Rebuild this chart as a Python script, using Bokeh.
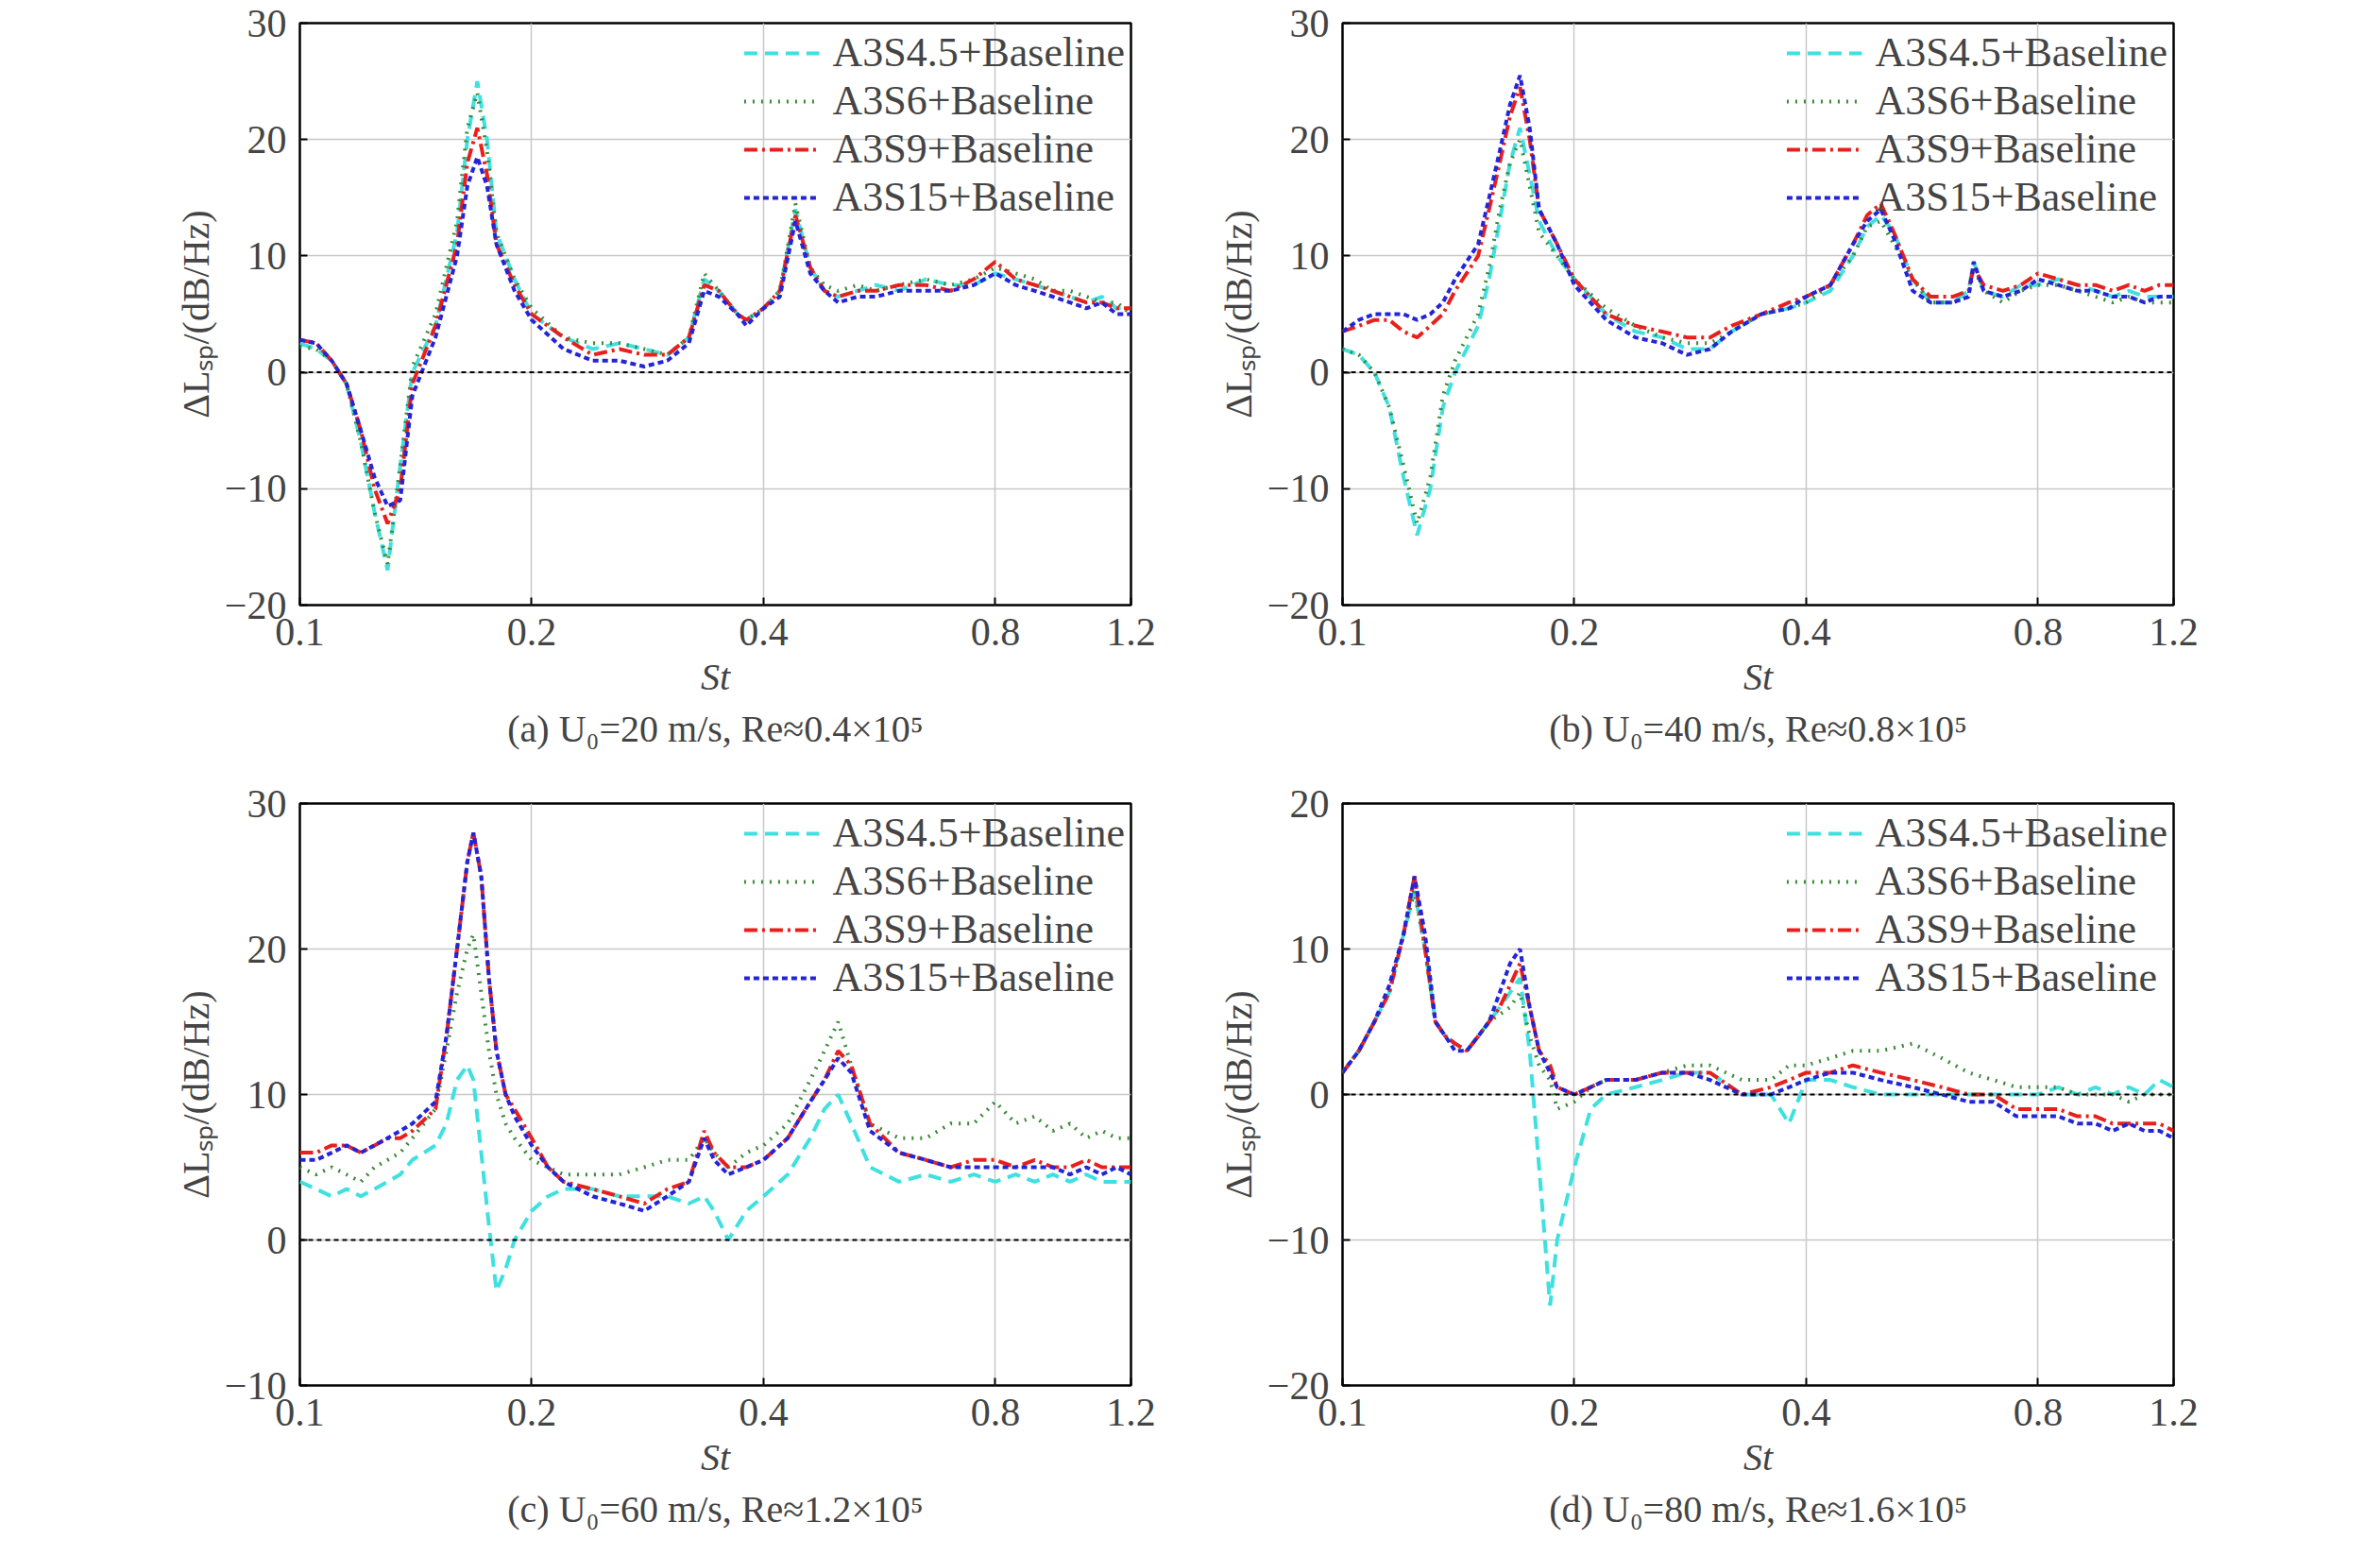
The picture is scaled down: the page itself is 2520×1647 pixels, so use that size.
from bokeh.plotting import figure
from bokeh.layouts import column, row
from bokeh.models import Title, Span, Range1d
from bokeh.embed import file_html
from bokeh.resources import INLINE

FONT = "Liberation Serif"
names = ["A3S4.5+Baseline", "A3S6+Baseline", "A3S9+Baseline", "A3S15+Baseline"]
colors = ["#3fe0e0", "#3a8a3a", "#e8201c", "#2424d8"]
dashes = ["14 8", "2 7", "14 5 3 5", "6 4"]
xticks = [0.1, 0.2, 0.4, 0.8, 1.2]

st_a = [0.1, 0.105, 0.11, 0.115, 0.12, 0.125, 0.13, 0.135, 0.14, 0.15,
        0.16, 0.165, 0.17, 0.175, 0.18, 0.19, 0.2, 0.22, 0.24, 0.26,
        0.28, 0.3, 0.32, 0.335, 0.35, 0.37, 0.38, 0.4, 0.42, 0.44,
        0.46, 0.48, 0.5, 0.53, 0.56, 0.6, 0.65, 0.7, 0.75, 0.8,
        0.85, 0.9, 0.95, 1.0, 1.05, 1.1, 1.15, 1.2]
a_s45 = [2.5, 2, 1, -1, -6, -12, -17, -8, 0, 4, 12, 20, 25, 20, 12, 8, 5, 3, 2, 2.5,
         2, 1.5, 3, 8, 7, 5, 4.5, 5.5, 7, 14, 9, 7, 6.5, 7, 7.5, 7, 8, 7.5, 7.5, 8.5,
         8, 7.5, 7, 6.5, 6, 6.5, 5.5, 5.5]
a_s6 = [2.2, 2, 1, -1, -6, -12, -16.5, -8, 0.5, 5, 13, 21, 24, 19, 12, 8, 5.5, 3, 2.5, 2.5,
        2, 1.5, 3, 8.5, 7, 5, 4.5, 5.5, 7, 14.5, 9, 7.5, 7, 7.5, 7, 7.5, 8, 7.5, 8, 9,
        8.5, 8, 7, 7, 6.5, 6, 6, 5]
a_s9 = [2.8, 2.5, 1, -1, -5, -10, -13, -10, -1, 4, 11, 18, 21, 17, 11, 7.5, 5, 3, 1.5, 2,
        1.5, 1.5, 3, 7.5, 7, 5, 4.5, 5.5, 7, 13.5, 9, 7, 6.5, 7, 7, 7.5, 7.5, 7, 8, 9.5,
        8, 7.5, 7, 6.5, 6, 6, 5.5, 5.5]
a_s15 = [2.8, 2.5, 1, -1, -5, -9, -11.5, -11, -2, 3, 10, 16, 18.5, 16, 11, 7, 4.5, 2, 1, 1,
         0.5, 1, 2.5, 7, 6.5, 5, 4, 5.5, 6.5, 13, 8.5, 7, 6, 6.5, 6.5, 7, 7, 7, 7.5, 8.5,
         7.5, 7, 6.5, 6, 5.5, 6, 5, 5]

st_b = [0.1, 0.105, 0.11, 0.115, 0.12, 0.125, 0.13, 0.135, 0.14, 0.15,
        0.155, 0.16, 0.165, 0.17, 0.175, 0.18, 0.19, 0.2, 0.22, 0.24,
        0.26, 0.28, 0.3, 0.32, 0.35, 0.38, 0.4, 0.43, 0.46, 0.48,
        0.5, 0.52, 0.55, 0.58, 0.62, 0.65, 0.66, 0.68, 0.72, 0.76,
        0.8, 0.85, 0.9, 0.95, 1.0, 1.05, 1.1, 1.15, 1.2]
b_s45 = [2, 1.5, 0, -3, -9, -14, -10, -3, 0, 4, 8, 13, 18, 21, 17, 13, 10, 8, 5, 3.5,
         3, 2, 2, 3.5, 5, 5.5, 6, 7, 10, 12.5, 13.5, 12, 8, 6, 6, 7, 9.5, 7, 6.5, 7.5,
         7.5, 8, 7.5, 7, 6.5, 7, 6.5, 6.5, 6.5]
b_s6 = [2, 1.5, 0, -3, -8, -13, -9, -2, 1, 5, 9, 14, 18, 20, 16, 12, 10, 8, 5.5, 4,
        3, 2.5, 2.5, 3.5, 5, 5.5, 6, 7.5, 10, 12.5, 13, 11, 8, 6, 6, 6.5, 9, 7, 6, 7,
        7.5, 7.5, 7, 6.5, 6, 6.5, 6, 6, 6]
b_s9 = [3.5, 4, 4.5, 4.5, 3.5, 3, 4, 5, 7, 10, 14, 18, 22, 24.5, 20, 14, 11, 8, 5, 4,
        3.5, 3, 3, 4, 5, 6, 6.5, 7.5, 11, 13.5, 14.5, 12, 8, 6.5, 6.5, 7, 9, 7.5, 7, 7.5,
        8.5, 8, 7.5, 7.5, 7, 7.5, 7, 7.5, 7.5]
b_s15 = [3.5, 4.5, 5, 5, 5, 4.5, 5, 6, 8, 11, 15, 19, 23, 25.5, 21, 14, 11, 7.5, 4.5, 3,
         2.5, 1.5, 2, 3.5, 5, 5.5, 6.5, 7.5, 11, 13, 14, 11.5, 7, 6, 6, 6.5, 9.5, 7, 6.5, 7,
         8, 7.5, 7, 7, 6.5, 6.5, 6, 6.5, 6.5]

st_c = [0.1, 0.105, 0.11, 0.115, 0.12, 0.125, 0.13, 0.135, 0.14, 0.15,
        0.155, 0.16, 0.165, 0.168, 0.172, 0.176, 0.18, 0.185, 0.19, 0.2,
        0.21, 0.22, 0.24, 0.26, 0.28, 0.3, 0.32, 0.335, 0.345, 0.36,
        0.38, 0.4, 0.43, 0.46, 0.48, 0.5, 0.52, 0.55, 0.6, 0.65,
        0.7, 0.75, 0.8, 0.85, 0.9, 0.95, 1.0, 1.05, 1.1, 1.15, 1.2]
c_s45 = [4, 3.5, 3, 3.5, 3, 3.5, 4, 4.5, 5.5, 6.5, 8, 11, 12, 11, 6, 1, -3.5, -2, 0, 2,
         3, 3.5, 3.5, 3, 3, 3, 2.5, 3, 2, 0, 2, 3, 4.5, 7, 9, 10, 8, 5, 4, 4.5,
         4, 4.5, 4, 4.5, 4, 4.5, 4, 4.5, 4, 4, 4]
c_s6 = [5, 4.5, 5, 4.5, 4, 5, 5.5, 6, 7, 9, 13, 17, 20, 21, 17, 13, 10, 8, 7, 5.5,
        5, 4.5, 4.5, 4.5, 5, 5.5, 5.5, 7, 6, 5, 6, 6.5, 8, 11, 13, 15, 12, 8, 7, 7,
        8, 8, 9.5, 8, 8.5, 7.5, 8, 7, 7.5, 7, 7]
c_s9 = [6, 6, 6.5, 6.5, 6, 6.5, 7, 7, 7.5, 9, 14, 20, 26, 28, 25, 18, 13, 10, 9, 7,
        5, 4, 3.5, 3, 2.5, 3.5, 4, 7.5, 6, 5, 5, 5.5, 7, 9.5, 11, 13, 12, 8, 6, 5.5,
        5, 5.5, 5.5, 5, 5.5, 5, 5, 5.5, 5, 5, 5]
c_s15 = [5.5, 5.5, 6, 6.5, 6, 6.5, 7, 7.5, 8, 9.5, 14, 20, 26, 28, 25, 18, 13, 10, 8.5, 6.5,
         5, 4, 3, 2.5, 2, 3, 4, 7, 5.5, 4.5, 5, 5.5, 7, 9.5, 11, 12.5, 11.5, 7.5, 6, 5.5,
         5, 5, 5, 5, 5, 5, 4.5, 5, 4.5, 5, 4.5]

st_d = [0.1, 0.105, 0.11, 0.115, 0.12, 0.124, 0.128, 0.132, 0.136, 0.14,
        0.145, 0.15, 0.155, 0.16, 0.165, 0.17, 0.175, 0.18, 0.186, 0.19,
        0.2, 0.21, 0.22, 0.24, 0.26, 0.28, 0.3, 0.33, 0.36, 0.38,
        0.4, 0.43, 0.46, 0.5, 0.55, 0.6, 0.65, 0.7, 0.75, 0.8,
        0.85, 0.9, 0.95, 1.0, 1.05, 1.1, 1.15, 1.2]
d_s45 = [1.5, 3, 5, 7, 11, 14, 10, 5, 4, 3.5, 3, 4, 5, 6, 7, 8, 3, -5, -14.5, -10,
         -5, -1, 0, 0.5, 1, 1.5, 1.5, 0, 0, -2, 1, 1, 0.5, 0, 0, 0, 0, 0, 0, 0,
         0.5, 0, 0.5, 0, 0.5, 0, 1, 0.5]
d_s6 = [1.5, 3, 5, 7, 11, 14, 10, 5, 4, 3.5, 3, 4, 5, 5.5, 6, 7, 4, 2, 1, -1,
        -0.5, 0.5, 1, 1, 1.5, 2, 2, 1, 1, 2, 2, 2.5, 3, 3, 3.5, 2.5, 1.5, 1, 0.5, 0.5,
        0.5, 0, 0, 0, -0.5, 0, 0, 0]
d_s9 = [1.5, 3, 5, 7, 11, 15, 10, 5, 4, 3.5, 3, 4, 5, 6, 7.5, 9, 6, 3, 2, 0.5,
        0, 0.5, 1, 1, 1.5, 1.5, 1.5, 0, 0.5, 1, 1.5, 1.5, 2, 1.5, 1, 0.5, 0, 0, -1, -1,
        -1, -1.5, -1.5, -2, -2, -2, -2, -2.5]
d_s15 = [1.5, 3, 5, 7.5, 11, 15, 11, 5, 4, 3, 3, 4, 5, 7, 9, 10, 6, 3, 1.5, 0.5,
         0, 0.5, 1, 1, 1.5, 1.5, 1, 0, 0, 0.5, 1, 1.5, 1.5, 1, 0.5, 0, -0.5, -0.5, -1.5, -1.5,
         -1.5, -2, -2, -2.5, -2, -2.5, -2.5, -3]


def panel(st, series, yr, caption, left, right, top, bottom):
    p = figure(x_axis_type="log", x_range=Range1d(0.1, 1.2), y_range=Range1d(*yr),
               frame_width=880, frame_height=616, min_border_left=left,
               min_border_right=right, min_border_top=top, min_border_bottom=bottom,
               output_backend="svg", toolbar_location=None)
    p.outline_line_color = "black"
    p.outline_line_width = 2.5
    p.add_layout(Span(location=0, dimension="width", line_color="black",
                      line_dash="5 4", line_width=2))
    for ys, name, c, d in zip(series, names, colors, dashes):
        p.line(st, ys, line_color=c, line_dash=d, line_width=4, legend_label=name)
    p.xaxis.ticker = xticks
    p.xaxis.major_label_overrides = {t: str(t) for t in xticks}
    p.xaxis.minor_tick_line_color = None
    p.yaxis.ticker = list(range(yr[0], yr[1] + 1, 10))
    p.yaxis.major_label_overrides = {v: str(v).replace("-", "\u2212") for v in range(yr[0], yr[1] + 1, 10)}
    p.yaxis.minor_tick_line_color = None
    for ax in (p.xaxis, p.yaxis):
        ax.axis_line_color = None
        ax.major_tick_in = 8
        ax.major_tick_out = 0
        ax.major_tick_line_width = 2
        ax.major_label_text_font = FONT
        ax.major_label_text_font_size = "42px"
        ax.major_label_standoff = 14
        ax.axis_label_text_font = FONT
        ax.axis_label_text_font_size = "40px"
        ax.axis_label_text_font_style = "normal"
    p.xaxis.axis_label = "St"
    p.xaxis.axis_label_text_font_style = "italic"
    p.xaxis.axis_label_standoff = 8
    p.yaxis.axis_label = "\u0394L\u209b\u209a/(dB/Hz)"
    p.grid.grid_line_color = "#c8c8c8"
    p.grid.grid_line_width = 1.5
    p.xgrid.minor_grid_line_color = None
    p.add_layout(Title(text=caption, align="center", text_font=FONT,
                       text_font_size="40px", text_font_style="normal"), "below")
    lg = p.legend[0]
    lg.location = "top_right"
    lg.background_fill_alpha = 0
    lg.border_line_color = None
    lg.label_text_font = FONT
    lg.label_text_font_size = "44px"
    lg.glyph_width = 80
    lg.label_height = 36
    lg.glyph_height = 36
    lg.label_standoff = 14
    lg.spacing = 0
    lg.padding = 4
    lg.margin = 6
    return p


pa = panel(st_a, [a_s45, a_s6, a_s9, a_s15], (-20, 30),
           "(a) U\u2080=20 m/s, Re\u22480.4\u00d710\u2075", 317, 63, 24, 180)
pb = panel(st_b, [b_s45, b_s6, b_s9, b_s15], (-20, 30),
           "(b) U\u2080=40 m/s, Re\u22480.8\u00d710\u2075", 161, 200, 24, 180)
pc = panel(st_c, [c_s45, c_s6, c_s9, c_s15], (-10, 30),
           "(c) U\u2080=60 m/s, Re\u22481.2\u00d710\u2075", 317, 63, 30, 160)
pd = panel(st_d, [d_s45, d_s6, d_s9, d_s15], (-20, 20),
           "(d) U\u2080=80 m/s, Re\u22481.6\u00d710\u2075", 161, 200, 30, 160)

layout = column(row(pa, pb), row(pc, pd))
open("out.html", "w").write(file_html(layout, INLINE))
